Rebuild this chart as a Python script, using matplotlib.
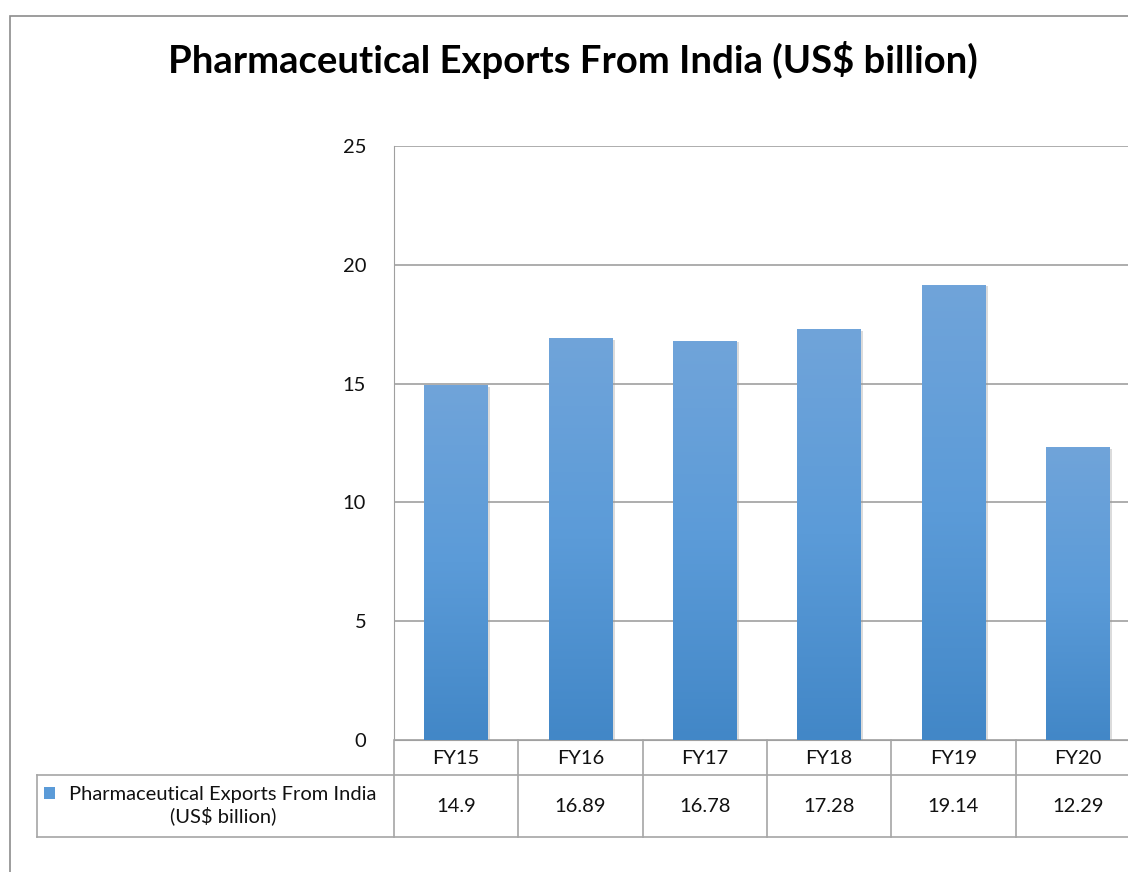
import numpy as np
import matplotlib
matplotlib.use("Agg")
import matplotlib.pyplot as plt
from matplotlib.colors import LinearSegmentedColormap
from matplotlib.patches import Rectangle
import matplotlib.transforms as mtransforms

years = ["FY15", "FY16", "FY17", "FY18", "FY19", "FY20"]
exports = [14.9, 16.89, 16.78, 17.28, 19.14, 12.29]
value_labels = ["14.9", "16.89", "16.78", "17.28", "19.14", "12.29"]
series_name = "Pharmaceutical Exports From India\n(US$ billion)"
title = "Pharmaceutical Exports From India (US$ billion)"

plt.rcParams['font.family'] = ['Lato', 'DejaVu Sans']

W, H = 1128, 872
fig = plt.figure(figsize=(W / 100, H / 100), dpi=100)

def fx(px):
    return px / W

def fy(py):
    return 1 - py / H

# outer chart frame (right and bottom edges fall outside the picture)
fig.add_artist(Rectangle((fx(10), fy(880)), fx(1200), fy(16) - fy(880),
                         transform=fig.transFigure, fill=False,
                         edgecolor="#8c8c8c", lw=1.2))

fig.text(fx(573), fy(60), title, ha="center", va="center",
         fontsize=27.5, fontweight="bold", color="black")

ax = fig.add_axes([fx(394), fy(740), fx(1140) - fx(394), fy(146) - fy(740)])
ax.set_yticks([0, 5, 10, 15, 20, 25])
ax.tick_params(axis="y", length=0, pad=20, labelsize=14.5, labelcolor="#111111")
ax.set_xticks([])
for s in ["top", "right"]:
    ax.spines[s].set_visible(False)
ax.spines["left"].set_color("#a0a0a0")
ax.spines["bottom"].set_color("#a0a0a0")
ax.yaxis.grid(True, color="#a0a0a0", lw=1.2)
ax.set_axisbelow(True)

cmap = LinearSegmentedColormap.from_list("bar", ["#4287c7", "#5b9bd8", "#70a4da"])
grad = np.linspace(0, 1, 256).reshape(-1, 1)
bw = 0.51
for i, v in enumerate(exports):
    # soft shadow
    ax.add_patch(Rectangle((i - bw / 2 + 0.02, 0), bw, v - 0.05,
                           color="#999999", alpha=0.35, zorder=2, lw=0))
    ax.imshow(grad, extent=(i - bw / 2, i + bw / 2, 0, v), origin="lower",
              cmap=cmap, aspect="auto", zorder=3, interpolation="bilinear")
ax.set_xlim(-0.5, len(years) - 0.5)
ax.set_ylim(0, 25)

# data table under the chart
line_c = "#a6a6a6"
bt = mtransforms.blended_transform_factory(ax.transData, fig.transFigure)
for i in range(len(years) + 1):
    fig.add_artist(plt.Line2D([i - 0.5, i - 0.5], [fy(740), fy(837)],
                              transform=bt, color=line_c, lw=1.2))
for py in [775, 837]:
    fig.add_artist(plt.Line2D([fx(37), fx(1200)], [fy(py), fy(py)],
                              transform=fig.transFigure, color=line_c, lw=1.2))
fig.add_artist(plt.Line2D([fx(37), fx(37)], [fy(775), fy(837)],
                          transform=fig.transFigure, color=line_c, lw=1.2))

for i, (yr, lab) in enumerate(zip(years, value_labels)):
    fig.text(i, fy(758), yr, transform=bt, ha="center", va="center",
             fontsize=14.5, color="#111111")
    fig.text(i, fy(806), lab, transform=bt, ha="center", va="center",
             fontsize=14.5, color="#111111")

fig.add_artist(Rectangle((fx(44), fy(799)), fx(11), fy(787) - fy(799),
                         transform=fig.transFigure, color="#5b9bd8", lw=0))
fig.text(fx(223), fy(806), series_name, ha="center", va="center",
         fontsize=14.5, color="#111111", linespacing=1.2)

fig.savefig("out.png", dpi=100)
